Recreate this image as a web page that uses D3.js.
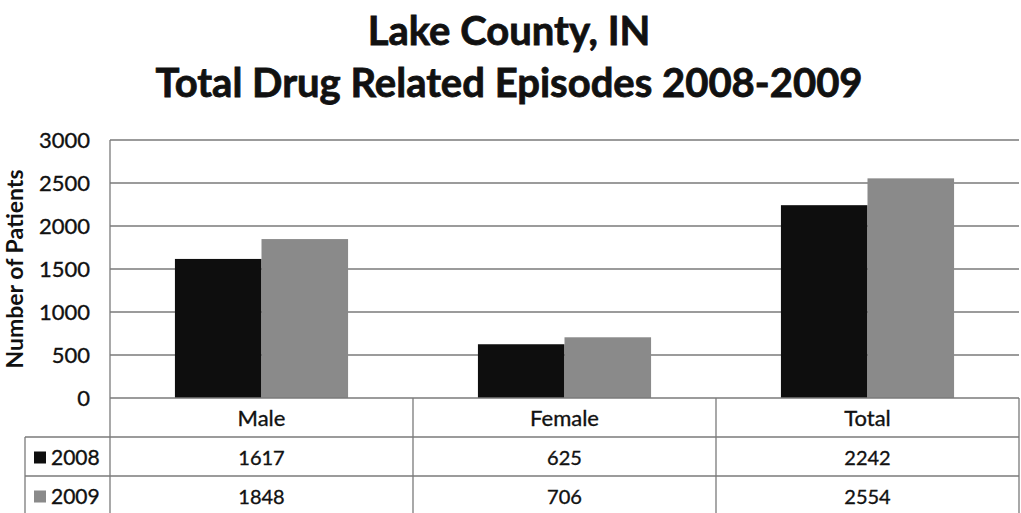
<!DOCTYPE html>
<html>
<head>
<meta charset="utf-8">
<script src="https://cdn.jsdelivr.net/npm/d3@7"></script>
<style>
  body { margin: 0; background: #fff; }
  svg text { font-family: Lato, "Open Sans", sans-serif; fill: #111; }
  svg text.reg { stroke: #111; stroke-width: 0.35px; }
</style>
</head>
<body>
<svg id="chart" width="1021" height="513"></svg>
<script>
const categories = ['Male', 'Female', 'Total'];
const series = ['2008', '2009'];
const values2008 = [1617, 625, 2242];
const values2009 = [1848, 706, 2554];
const yTicks = [0, 500, 1000, 1500, 2000, 2500, 3000];
const titleLines = ['Lake County, IN', 'Total Drug Related Episodes 2008-2009'];
const yTitle = 'Number of Patients';

const colors = { '2008': '#0e0e0e', '2009': '#8a8a8a' };
const rows = [
    { name: '2008', values: values2008 },
    { name: '2009', values: values2009 }
];

const svg = d3.select('#chart');
const plotLeft = 110, plotRight = 1019, plotTop = 140, plotBottom = 398;
const rowH = [plotBottom, 437, 476, 515];
const legendLeft = 25;
const gridColor = '#7a7a7a';

const x = d3.scaleBand().domain(categories).range([plotLeft, plotRight]);
const xs = d3.scaleBand().domain(series).range([0, x.bandwidth()]).paddingOuter(0.75);
const y = d3.scaleLinear().domain([0, 3000]).range([plotBottom, plotTop]);

// title
svg.append('g').selectAll('text')
    .data(titleLines)
    .enter().append('text')
    .attr('x', 509)
    .attr('y', (d, i) => 45 + i * 52)
    .attr('text-anchor', 'middle')
    .style('font-size', '40px')
    .style('font-weight', 'bold')
    .style('stroke', '#111')
    .style('stroke-width', '0.8px')
    .text(d => d);

// gridlines
svg.append('g').selectAll('line')
    .data(yTicks.filter(t => t > 0))
    .enter().append('line')
    .attr('x1', plotLeft).attr('x2', plotRight)
    .attr('y1', d => y(d)).attr('y2', d => y(d))
    .attr('stroke', gridColor).attr('stroke-width', 1.3);

// y axis labels
const yAxis = svg.append('g')
    .attr('transform', `translate(${plotLeft},0)`)
    .call(d3.axisLeft(y).tickValues(yTicks).tickFormat(d3.format('d')).tickSize(0).tickPadding(20));
yAxis.select('.domain').remove();
yAxis.selectAll('text')
    .attr('class', 'reg')
    .style('font-size', '22px')
    .style('font-family', 'Lato, sans-serif')
    .attr('fill', '#111');

svg.append('text')
    .attr('transform', `translate(23,${(plotTop + plotBottom) / 2}) rotate(-90)`)
    .attr('text-anchor', 'middle')
    .style('font-size', '23px')
    .style('font-weight', 'bold')
    .text(yTitle);

// bars
const groups = svg.append('g').selectAll('g')
    .data(categories)
    .enter().append('g')
    .attr('transform', d => `translate(${x(d)},0)`);

groups.selectAll('rect')
    .data((d, i) => rows.map(r => ({ key: r.name, value: r.values[i] })))
    .enter().append('rect')
    .attr('x', d => xs(d.key))
    .attr('width', xs.bandwidth())
    .attr('y', d => y(d.value))
    .attr('height', d => y(0) - y(d.value))
    .attr('fill', d => colors[d.key]);

// data table lines
const lines = svg.append('g').attr('stroke', gridColor).attr('stroke-width', 1.3);
lines.append('line').attr('x1', plotLeft).attr('x2', plotRight).attr('y1', plotBottom).attr('y2', plotBottom);
rowH.slice(1, 3).forEach(h => {
    lines.append('line').attr('x1', legendLeft).attr('x2', plotRight).attr('y1', h).attr('y2', h);
});
lines.append('line').attr('x1', plotLeft).attr('x2', plotLeft).attr('y1', plotTop).attr('y2', 513);
lines.append('line').attr('x1', legendLeft).attr('x2', legendLeft).attr('y1', rowH[1]).attr('y2', 513);
categories.forEach(c => {
    lines.append('line')
        .attr('x1', x(c) + x.bandwidth()).attr('x2', x(c) + x.bandwidth())
        .attr('y1', plotBottom).attr('y2', 513);
});

// category header
svg.append('g').selectAll('text')
    .data(categories)
    .enter().append('text')
    .attr('class', 'reg')
    .attr('x', d => x(d) + x.bandwidth() / 2)
    .attr('y', (rowH[0] + rowH[1]) / 2 + 8)
    .attr('text-anchor', 'middle')
    .style('font-size', '22px')
    .text(d => d);

// table rows
rows.forEach((r, ri) => {
    const mid = (rowH[ri + 1] + rowH[ri + 2]) / 2;
    const g = svg.append('g');
    g.append('rect')
        .attr('x', 34).attr('y', mid - 5)
        .attr('width', 12).attr('height', 12)
        .attr('fill', colors[r.name]);
    g.append('text')
        .attr('class', 'reg')
        .attr('x', 51).attr('y', mid + 8)
        .style('font-size', '21px')
        .text(r.name);
    g.selectAll('text.val')
        .data(r.values)
        .enter().append('text')
        .attr('class', 'val reg')
        .attr('x', (d, i) => x(categories[i]) + x.bandwidth() / 2)
        .attr('y', mid + 8)
        .attr('text-anchor', 'middle')
        .style('font-size', '20px')
        .text(d => d);
});
</script>
</body>
</html>
